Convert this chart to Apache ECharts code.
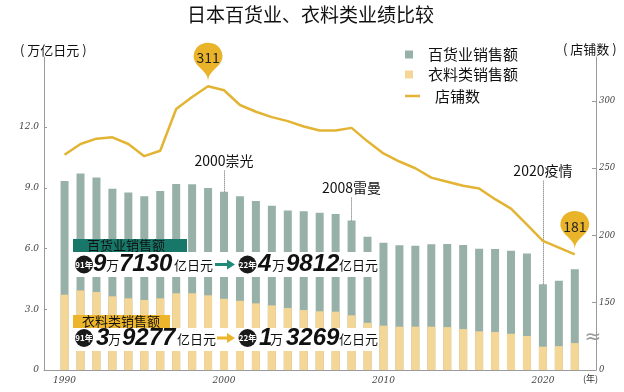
<!DOCTYPE html>
<html><head><meta charset="utf-8">
<script src="https://cdn.jsdelivr.net/npm/echarts@6/dist/echarts.min.js"></script>
<style>html,body{margin:0;padding:0;background:#fff}#c{width:624px;height:392px}</style>
</head><body><div id="c"></div>
<script>
// ---- data ----
const years = [1990,1991,1992,1993,1994,1995,1996,1997,1998,1999,2000,2001,2002,2003,2004,2005,2006,2007,2008,2009,2010,2011,2012,2013,2014,2015,2016,2017,2018,2019,2020,2021,2022];
const totalSales = [9.33,9.71,9.51,8.95,8.77,8.58,8.84,9.19,9.17,8.99,8.81,8.58,8.35,8.11,7.88,7.84,7.77,7.70,7.38,6.58,6.29,6.16,6.14,6.21,6.22,6.17,5.99,5.98,5.89,5.76,4.23,4.41,4.98];
const clothingSales = [3.72,3.93,3.85,3.64,3.54,3.46,3.54,3.79,3.79,3.69,3.52,3.42,3.29,3.19,3.06,2.96,2.90,2.88,2.70,2.33,2.19,2.14,2.14,2.14,2.12,2.02,1.91,1.88,1.79,1.68,1.15,1.18,1.33];
const storeCount = [260,268,272,273,268,259,263,294,303,311,308,297,292,288,285,281,278,278,280,270,261,255,250,243,240,237,235,227,220,208,196,191,186];
const xTicks = [1990,2000,2010,2020];
const yLeftTicks = [0,3,6,9,12];
const yRightTicks = [100,150,200,250,300];
const eventYears = [2000,2008,2020];
const eventLabels = ['2000崇光','2008雷曼','2020疫情'];
const pinYears = [1999,2022];
const pinLabels = [311,181];
const seriesNames = ['百货业销售额','衣料类销售额','店铺数'];

// ---- chart ----
const CJK = '"Noto Sans CJK SC","Noto Sans",sans-serif';
const chart = echarts.init(document.getElementById('c'));
const eventTop = [9.88, 8.54, 9.38];

const tickFont = {fontFamily:'DejaVu Serif', fontStyle:'italic', fontSize:9, color:'#444'};

function T(text, x, y, font, fill, align) {
  return {type:'text', z:100, x:x, y:y, style:{text:text, font:font, fill:fill||'#111', textAlign:align||'left', textVerticalAlign:'middle'}};
}
function R(x, y, w, h, fill) {
  return {type:'rect', z:99, shape:{x:x, y:y, width:w, height:h}, style:{fill:fill}};
}
function C(cx, cy, r, fill) {
  return {type:'circle', z:100, shape:{cx:cx, cy:cy, r:r}, style:{fill:fill}};
}
function A(x0, x1, cy, fill) {
  return {type:'polygon', z:100, shape:{points:[[x0,cy-1.6],[x1-8,cy-1.6],[x1-8,cy-5],[x1,cy],[x1-8,cy+5],[x1-8,cy+1.6],[x0,cy+1.6]]}, style:{fill:fill}};
}
const big = 'italic bold 24px "Liberation Sans"';
const sm = '13px ' + CJK;
const badge = 'bold 8px ' + CJK;

const graphics = [
  T('( 万亿日元 )', 20, 50, '13px ' + CJK),
  T('( 店铺数 )', 563, 49, '13px ' + CJK),
  T('(年)', 583, 378.5, '9px ' + CJK, '#333'),
  T('≈', 593, 338, '20px "DejaVu Sans"', '#999', 'center'),
  // row 1
  R(73, 252, 304, 25, '#fff'),
  R(73, 239, 114, 13, '#17786A'),
  T('百货业销售额', 87, 245.5, sm, '#111'),
  C(84, 264.5, 9, '#1a1a1a'), T('91年', 84, 264.5, badge, '#fff', 'center'),
  T('9', 93, 264.5, big), T('万', 106, 265.5, sm), T('7130', 119, 264.5, big), T('亿日元', 174, 265.5, sm),
  A(215, 235, 264.5, '#1F8A78'),
  C(247.5, 264.5, 9, '#1a1a1a'), T('22年', 247.5, 264.5, badge, '#fff', 'center'),
  T('4', 258, 264.5, big), T('万', 272, 265.5, sm), T('9812', 286, 264.5, big), T('亿日元', 339, 265.5, sm),
  // row 2
  R(73, 328, 304, 23, '#fff'),
  R(73, 315, 97, 13, '#EDB52C'),
  T('衣料类销售额', 82, 321.5, sm, '#111'),
  C(84, 338, 9, '#1a1a1a'), T('91年', 84, 338, badge, '#fff', 'center'),
  T('3', 96, 338, big), T('万', 108, 339, sm), T('9277', 122, 338, big), T('亿日元', 177, 339, sm),
  A(217, 235, 338, '#EDB52C'),
  C(247.5, 338, 9, '#1a1a1a'), T('22年', 247.5, 338, badge, '#fff', 'center'),
  T('1', 259, 338, big), T('万', 270, 339, sm), T('3269', 286, 338, big), T('亿日元', 339, 339, sm)
];

const option = {
  animation: false,
  textStyle: {fontFamily: CJK},
  title: {text:'日本百货业、衣料类业绩比较', left:182, top:0, textStyle:{fontSize:19, fontWeight:'normal', color:'#111', fontFamily:CJK}},
  legend: [
    {data:[seriesNames[0], seriesNames[1]], orient:'vertical', left:400, top:42, itemWidth:8, itemHeight:8, itemGap:5,
     icon:'rect', textStyle:{fontSize:15, color:'#111', lineHeight:15, padding:[0,0,0,10]}},
    {data:[seriesNames[2]], orient:'vertical', left:400, top:83.5, itemWidth:15, itemHeight:8,
     icon:'path://M0,0H15V2.5H0Z',
     textStyle:{fontSize:15, color:'#111', lineHeight:15, padding:[0,0,0,10]}}
  ],
  grid: {left:44, right:28, top:57, bottom:22},
  xAxis: {
    type:'value', min:1988.71, max:2023.33,
    axisLine:{show:true, lineStyle:{color:'#9a9a9a'}},
    axisTick:{show:false},
    splitLine:{show:false},
    axisLabel: Object.assign({customValues:xTicks, margin:6, formatter:v=>String(v)}, tickFont)
  },
  yAxis: [
    {type:'value', min:0, max:15.46, position:'left',
     axisLine:{show:true, lineStyle:{color:'#9a9a9a'}},
     axisTick:{show:true, inside:true, length:3, customValues:yLeftTicks, lineStyle:{color:'#9a9a9a'}},
     splitLine:{show:false},
     axisLabel: Object.assign({customValues:yLeftTicks, margin:5, formatter:v=>v===0?'0':v.toFixed(1)}, tickFont)},
    {type:'value', min:100, max:332.7, position:'right',
     axisLine:{show:true, lineStyle:{color:'#9a9a9a'}},
     axisTick:{show:true, inside:true, length:4, customValues:yRightTicks, lineStyle:{color:'#9a9a9a'}},
     splitLine:{show:false},
     axisLabel: Object.assign({customValues:yRightTicks, margin:3, formatter:v=>v===100?'0':String(v)}, tickFont, {fontSize:8.5})}
  ],
  series: [
    {name:seriesNames[0], type:'bar', barWidth:8, itemStyle:{color:'#97B1A9'},
     data: years.map((y,i)=>[y,totalSales[i]]),
     markLine: {silent:true, symbol:['none','none'],
       lineStyle:{type:'dotted', color:'#666', width:1},
       label:{show:true, position:'end', distance:2, color:'#111', fontSize:14, fontFamily:CJK, formatter:p=>p.name},
       data: eventYears.map((y,i)=>[{name:eventLabels[i], coord:[y, totalSales[years.indexOf(y)]]}, {coord:[y, eventTop[i]]}])}
    },
    {name:seriesNames[1], type:'bar', barWidth:8, barGap:'-100%', itemStyle:{color:'#F4D696'},
     data: years.map((y,i)=>[y,clothingSales[i]])},
    {name:seriesNames[2], type:'line', yAxisIndex:1, symbol:'none', z:5,
     itemStyle:{color:'#E3B434'}, lineStyle:{color:'#E3B434', width:2.5},
     data: years.map((y,i)=>[y,storeCount[i]]),
     markPoint: {symbol:'pin', symbolSize:[48,44], symbolOffset:[0,-5],
       itemStyle:{color:'#EAB42A'},
       label:{color:'#222', fontSize:14, fontFamily:CJK, formatter:p=>String(p.value)},
       data: pinYears.map((y,i)=>({coord:[y, storeCount[years.indexOf(y)]], value:pinLabels[i]}))}
    }
  ],
  graphic: {elements: graphics}
};
chart.setOption(option);
</script></body></html>
